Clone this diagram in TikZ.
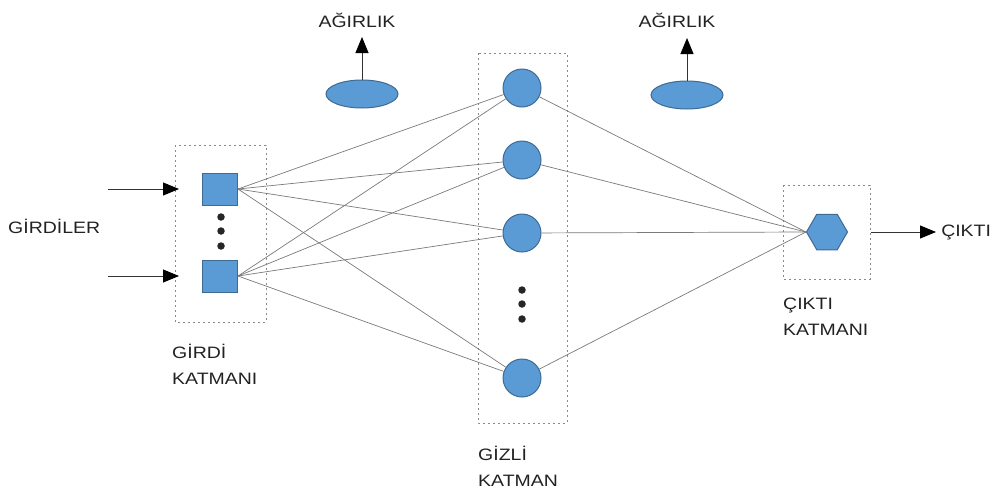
\documentclass[tikz,border=0pt]{standalone}
\usepackage{fontspec}
\setmainfont{Liberation Sans}
\usetikzlibrary{arrows.meta,shapes.geometric}
\definecolor{nodefill}{HTML}{5B9BD5}
\definecolor{nodeedge}{HTML}{3F6A92}
\definecolor{linkgray}{HTML}{7A7A7A}
\definecolor{boxgray}{HTML}{8A8A8A}
\definecolor{txt}{HTML}{222222}
\tikzset{
  sq/.style={draw=nodeedge, fill=nodefill, minimum width=35pt, minimum height=32pt, inner sep=0pt, line width=1pt},
  hid/.style={circle, draw=nodeedge, fill=nodefill, minimum size=38pt, inner sep=0pt, line width=1pt},
  outn/.style={regular polygon, regular polygon sides=6, draw=nodeedge, fill=nodefill, minimum size=41pt, inner sep=0pt, line width=1pt},
  wt/.style={ellipse, draw=nodeedge, fill=nodefill, minimum width=72pt, minimum height=28pt, inner sep=0pt, line width=1pt},
  layerbox/.style={draw=boxgray, line width=1pt, dash pattern=on 2pt off 3pt},
  link/.style={draw=linkgray, line width=0.7pt},
  arrowline/.style={draw=black!80, line width=0.9pt, -{Triangle[length=16pt,width=13pt, fill=black, color=black]}},
  lbl/.style={font=\fontsize{16.5}{26}\selectfont, text=txt, inner sep=0pt, align=left, xscale=1.18},
  dot/.style={circle, fill=black!85, minimum size=7.5pt, inner sep=0pt}
}
\begin{document}
\begin{tikzpicture}[x=1pt,y=-1pt]
\useasboundingbox (0,0) rectangle (1003,490);
% layer boxes
\draw[layerbox] (175,145) rectangle (266,322);
\draw[layerbox] (478,53) rectangle (567,423);
\draw[layerbox] (783,185) rectangle (870,279);
% input nodes
\node[sq] (i1) at (220,189) {};
\node[sq] (i2) at (220,276) {};
\node[dot] (di1) at (221,217) {};
\node[dot] (di2) at (221,231) {};
\node[dot] (di3) at (221,246) {};
% hidden nodes
\node[hid] (h1) at (522,88) {};
\node[hid] (h2) at (522,160) {};
\node[hid] (h3) at (522,233) {};
\node[hid] (h4) at (522,378) {};
\node[dot] (dh1) at (522,290) {};
\node[dot] (dh2) at (522,304) {};
\node[dot] (dh3) at (522,319) {};
% output node
\node[outn] (o) at (827,232) {};
% links
\foreach \i in {i1,i2}{
  \foreach \h in {h1,h2,h3,h4}{
    \path[link] (\i.east) -- (\h);
  }
}
\foreach \h in {h1,h2,h3,h4}{
  \path[link] (\h) -- (o.west);
}
% input arrows
\coordinate (a1) at (108,189);
\coordinate (a2) at (108,276);
\coordinate (b1) at (179,189);
\coordinate (b2) at (179,276);
\draw[arrowline] (a1) -- (b1);
\draw[arrowline] (a2) -- (b2);
% output arrow
\coordinate (c1) at (871,232);
\coordinate (c2) at (936,232);
\draw[arrowline] (c1) -- (c2);
% weights
\node[wt] (w1) at (362,94) {};
\node[wt] (w2) at (687,95) {};
\node[lbl, anchor=center] (tw1) at (357,20) {AĞIRLIK};
\node[lbl, anchor=center] (tw2) at (677,20) {AĞIRLIK};
\coordinate (wa1) at (362,37);
\coordinate (wa2) at (687,38);
\draw[arrowline] (w1.north) -- (wa1);
\draw[arrowline] (w2.north) -- (wa2);
% labels
\node[lbl, anchor=west] (tin) at (8,226) {GİRDİLER};
\node[lbl, anchor=west] (tout) at (941,232) {ÇIKTI};
\node[lbl, anchor=north west] (til) at (172,344) {GİRDİ\\KATMANI};
\node[lbl, anchor=north west] (thl) at (478,446) {GİZLİ\\KATMAN};
\node[lbl, anchor=north west] (tol) at (783,298) {ÇIKTI\\KATMANI};
\end{tikzpicture}
\end{document}
